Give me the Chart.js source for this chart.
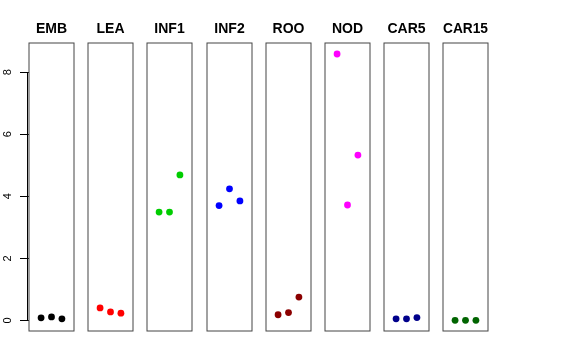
<!DOCTYPE html>
<html lang="en">
<head>
    <meta charset="UTF-8">
    <title>Strip panels</title>
    <style>
        body {
            margin: 0;
            padding: 0;
            background-color: #ffffff;
        }
        #wrap {
            position: relative;
            width: 576px;
            height: 360px;
        }
        #wrap canvas {
            position: absolute;
            top: 0;
        }
    </style>
    <script src="https://cdn.jsdelivr.net/npm/chart.js"></script>
</head>
<body>
    <div id="wrap"></div>

    <script>
        const tissues = ['EMB', 'LEA', 'INF1', 'INF2', 'ROO', 'NOD', 'CAR5', 'CAR15'];
        const replicate = [1, 2, 3];
        const EMB = [0.08, 0.11, 0.05];
        const LEA = [0.40, 0.27, 0.23];
        const INF1 = [3.49, 3.49, 4.69];
        const INF2 = [3.70, 4.24, 3.85];
        const ROO = [0.18, 0.25, 0.75];
        const NOD = [8.59, 3.72, 5.33];
        const CAR5 = [0.05, 0.05, 0.09];
        const CAR15 = [0.00, 0.00, 0.00];
        const values = [EMB, LEA, INF1, INF2, ROO, NOD, CAR5, CAR15];
        const colours = ['#000000', '#ff0000', '#00cd00', '#0000ff', '#8b0000', '#ff00ff', '#00008b', '#006400'];
        const yTicks = [0, 2, 4, 6, 8];

        const font = "'Liberation Sans', Arial, sans-serif";
        const panelLeft = 29;
        const panelStep = 59.2;
        const axisWidth = 30;

        // R-style box around each panel, plus the axis line on the first one
        const boxPlugin = {
            id: 'box',
            afterDraw(chart) {
                const a = chart.chartArea;
                const ctx = chart.ctx;
                ctx.save();
                ctx.strokeStyle = '#444';
                ctx.lineWidth = 1;
                ctx.strokeRect(a.left, a.top, a.right - a.left, a.bottom - a.top);
                const y = chart.scales.y;
                if (y.options.display) {
                    ctx.strokeStyle = '#000';
                    ctx.beginPath();
                    ctx.moveTo(a.left - 1.5, y.getPixelForValue(yTicks[0]));
                    ctx.lineTo(a.left - 1.5, y.getPixelForValue(yTicks[yTicks.length - 1]));
                    ctx.stroke();
                }
                ctx.restore();
            }
        };

        const wrap = document.getElementById('wrap');

        tissues.forEach((name, i) => {
            const first = i === 0;
            const canvas = document.createElement('canvas');
            const w = first ? axisWidth + 46 : 47;
            const left = first ? -1 : Math.round(panelLeft + i * panelStep) - 1;
            canvas.width = w;
            canvas.height = 334;
            canvas.style.left = left + 'px';
            canvas.style.width = w + 'px';
            canvas.style.height = '334px';
            wrap.appendChild(canvas);

            new Chart(canvas, {
                type: 'scatter',
                data: {
                    datasets: [{
                        data: replicate.map((x, k) => ({ x: x, y: values[i][k] })),
                        backgroundColor: colours[i],
                        borderColor: colours[i],
                        pointRadius: 3.4,
                        pointBorderWidth: 0
                    }]
                },
                options: {
                    responsive: false,
                    animation: false,
                    events: [],
                    layout: {
                        autoPadding: false,
                        padding: { left: first ? 0 : 1, right: 1, top: 0, bottom: 3 }
                    },
                    plugins: {
                        legend: { display: false },
                        tooltip: { enabled: false },
                        title: {
                            display: true,
                            fullSize: false,
                            text: name,
                            color: '#000',
                            font: { family: font, size: 14, weight: 'bold', lineHeight: 1.2 },
                            padding: { top: 21, bottom: 5.2 }
                        }
                    },
                    scales: {
                        x: {
                            type: 'linear',
                            min: -0.16,
                            max: 4.16,
                            display: false
                        },
                        y: {
                            type: 'linear',
                            min: -0.344,
                            max: 8.944,
                            display: first,
                            afterFit(scale) {
                                if (!first) return;
                                scale.width = axisWidth;
                                scale.paddingTop = 0;
                                scale.paddingBottom = 0;
                            },
                            afterBuildTicks(scale) {
                                scale.ticks = yTicks.map(v => ({ value: v }));
                            },
                            border: { display: false },
                            grid: {
                                drawOnChartArea: false,
                                drawTicks: true,
                                tickLength: 9,
                                tickWidth: 1,
                                tickColor: '#000'
                            },
                            ticks: {
                                includeBounds: false,
                                minRotation: 90,
                                maxRotation: 90,
                                crossAlign: 'center',
                                padding: 9,
                                color: '#000',
                                font: { family: font, size: 11 }
                            }
                        }
                    }
                },
                plugins: [boxPlugin]
            });
        });
    </script>
</body>
</html>
